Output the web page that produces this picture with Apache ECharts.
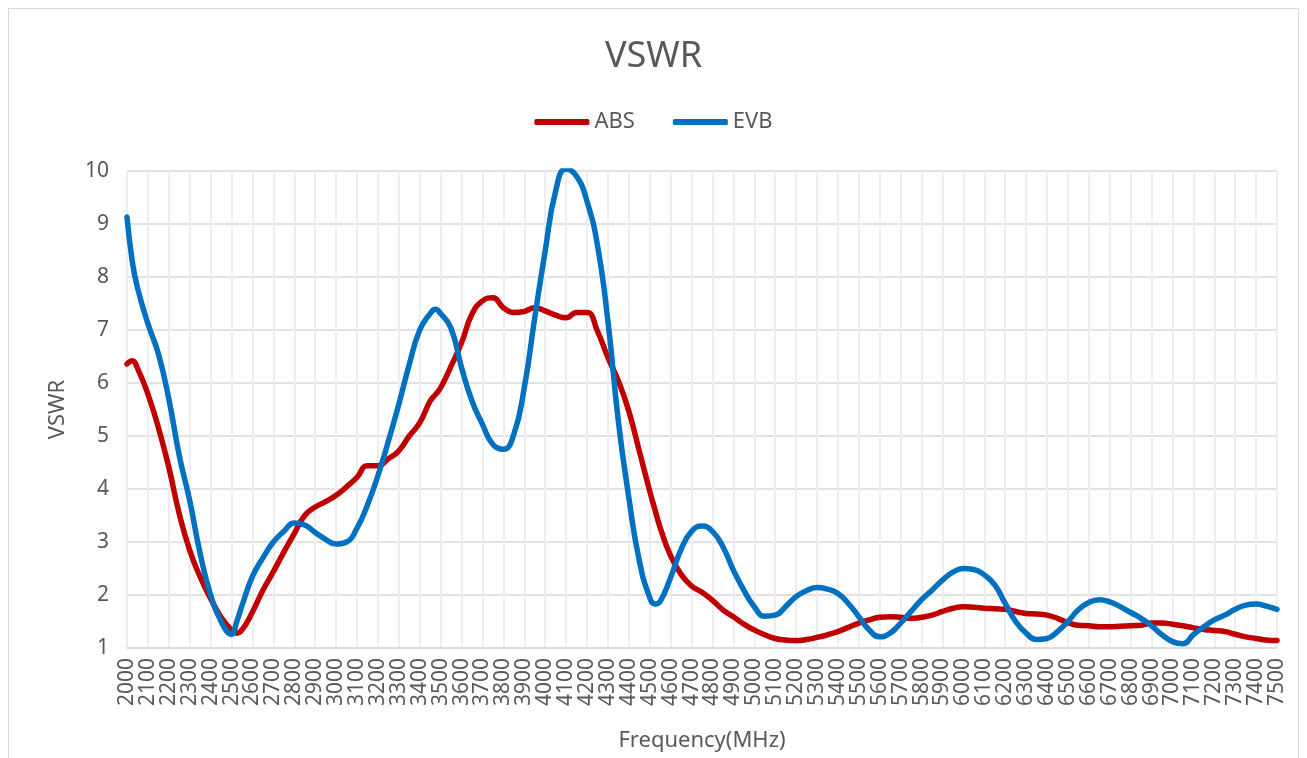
<!DOCTYPE html>
<html>
<head>
<meta charset="utf-8">
<title>VSWR</title>
<script src="https://cdn.jsdelivr.net/npm/echarts@6/dist/echarts.min.js"></script>
<style>
  html, body { margin: 0; padding: 0; background: #fff; }
  #frame { position: absolute; left: 8px; top: 8px; width: 1289px; height: 760px; border: 1px solid #d9d9d9; }
  #chart { position: absolute; left: 0; top: 0; width: 1307px; height: 758px; }
</style>
</head>
<body>
<div id="frame"></div>
<div id="chart"></div>
<script>
// frequency points (MHz), mostly 50 MHz apart, extra points at the dips/peaks
const freq = [
  2000, 2025, 2050, 2100, 2150, 2200, 2250, 2300, 2350, 2400, 2450,
  2500, 2525, 2550, 2600, 2650, 2700, 2750, 2800, 2850, 2900, 2950,
  3000, 3050, 3100, 3150, 3200, 3250, 3300, 3350, 3400, 3450, 3475,
  3500, 3550, 3600, 3650, 3700, 3750, 3800, 3850, 3900, 3950,
  4000, 4050, 4100, 4150, 4200, 4250, 4300, 4350, 4400, 4450,
  4500, 4525, 4550, 4600, 4650, 4700, 4750, 4800, 4850, 4900, 4950,
  5000, 5050, 5100, 5150, 5200, 5250, 5300, 5350, 5400, 5450,
  5500, 5550, 5600, 5650, 5700, 5750, 5800, 5850, 5900, 5950,
  6000, 6050, 6100, 6150, 6200, 6250, 6300, 6350, 6400, 6450,
  6500, 6550, 6600, 6650, 6700, 6750, 6800, 6850, 6900, 6950,
  7000, 7050, 7100, 7150, 7200, 7250, 7300, 7350, 7400, 7450,
  7500
];

// ABS board
const abs = [
  6.36, 6.42, 6.28, 5.79, 5.16, 4.41, 3.53, 2.84, 2.34, 1.93, 1.58,
  1.34, 1.28, 1.34, 1.68, 2.09, 2.44, 2.81, 3.16, 3.50, 3.66, 3.76,
  3.88, 4.04, 4.22, 4.44, 4.44, 4.57, 4.72, 5.00, 5.25, 5.66, 5.78,
  5.91, 6.32, 6.76, 7.30, 7.55, 7.61, 7.42, 7.33, 7.35, 7.42,
  7.36, 7.28, 7.23, 7.33, 7.33, 6.98, 6.48, 6.04, 5.47, 4.72,
  3.96, 3.61, 3.27, 2.74, 2.39, 2.17, 2.05, 1.90, 1.72, 1.59, 1.45,
  1.34, 1.25, 1.18, 1.15, 1.14, 1.16, 1.20, 1.25, 1.31, 1.39,
  1.47, 1.53, 1.58, 1.59, 1.58, 1.56, 1.58, 1.62, 1.69, 1.75,
  1.78, 1.77, 1.75, 1.74, 1.73, 1.69, 1.65, 1.64, 1.62, 1.56,
  1.48, 1.43, 1.42, 1.40, 1.40, 1.41, 1.42, 1.43, 1.47, 1.47,
  1.45, 1.42, 1.38, 1.35, 1.33, 1.31, 1.26, 1.21, 1.18, 1.15,
  1.14
];

// EVB board
const evb = [
  9.13, 8.30, 7.80, 7.12, 6.55, 5.70, 4.63, 3.78, 2.78, 2.00, 1.50,
  1.26, 1.50, 1.80, 2.35, 2.70, 3.00, 3.20, 3.36, 3.32, 3.18, 3.05,
  2.96, 3.00, 3.26, 3.70, 4.25, 4.90, 5.60, 6.35, 7.00, 7.31, 7.39,
  7.31, 7.03, 6.29, 5.66, 5.22, 4.84, 4.75, 5.03, 5.91, 7.23,
  8.49, 9.62, 10.04, 9.90, 9.43, 8.60, 7.17, 5.28, 3.84, 2.65,
  1.95, 1.83, 1.88, 2.33, 2.86, 3.20, 3.30, 3.20, 2.91, 2.47, 2.09,
  1.78, 1.60, 1.62, 1.78, 1.97, 2.08, 2.14, 2.11, 2.03, 1.84,
  1.59, 1.34, 1.21, 1.28, 1.47, 1.69, 1.91, 2.09, 2.28, 2.43,
  2.50, 2.48, 2.38, 2.19, 1.84, 1.50, 1.28, 1.16, 1.18, 1.31,
  1.50, 1.72, 1.86, 1.91, 1.87, 1.78, 1.67, 1.56, 1.42, 1.25,
  1.12, 1.08, 1.25, 1.40, 1.53, 1.62, 1.73, 1.81, 1.83, 1.79,
  1.73
];

const textColor = '#595959';
const font = 'Noto Sans, sans-serif';

let myChart = echarts.init(document.getElementById('chart'));

let option = {
  backgroundColor: 'transparent',
  textStyle: { fontFamily: font },
  title: {
    text: 'VSWR',
    left: 'center',
    top: 34,
    textStyle: { color: textColor, fontSize: 36, fontWeight: 'normal', fontFamily: font }
  },
  legend: {
    top: 106,
    left: 'center',
    itemWidth: 55,
    itemHeight: 6,
    itemGap: 38,
    icon: 'roundRect',
    textStyle: { color: textColor, fontSize: 22, fontFamily: font },
    data: ['ABS', 'EVB']
  },
  grid: { left: 127, right: 30, top: 171, bottom: 110, containLabel: false },
  xAxis: {
    type: 'value',
    min: 2000,
    max: 7500,
    interval: 100,
    name: 'Frequency(MHz)',
    nameLocation: 'middle',
    nameGap: 82,
    nameTextStyle: { color: textColor, fontSize: 22, fontFamily: font },
    axisLine: { show: true, lineStyle: { color: '#d9d9d9', width: 1.5 } },
    axisTick: { show: false },
    axisLabel: {
      rotate: 90, color: textColor, fontSize: 21, margin: 10, fontFamily: font,
      formatter: v => String(v)
    },
    splitLine: { show: true, lineStyle: { color: '#eeeeee', width: 2 } }
  },
  yAxis: {
    type: 'value',
    min: 1,
    max: 10,
    interval: 1,
    name: 'VSWR',
    nameLocation: 'middle',
    nameGap: 58,
    nameTextStyle: { color: textColor, fontSize: 22, fontFamily: font },
    axisLine: { show: false },
    axisTick: { show: false },
    axisLabel: { color: textColor, fontSize: 21, margin: 18, fontFamily: font },
    splitLine: { show: true, lineStyle: { color: '#d9d9d9', width: 1.5 } }
  },
  series: [
    {
      name: 'ABS',
      type: 'line',
      data: freq.map((f, i) => [f, abs[i]]),
      smooth: 0.5,
      showSymbol: false,
      clip: false,
      color: '#C00000',
      lineStyle: { width: 5.5, color: '#C00000', cap: 'round', join: 'round' }
    },
    {
      name: 'EVB',
      type: 'line',
      data: freq.map((f, i) => [f, evb[i]]),
      smooth: 0.5,
      showSymbol: false,
      clip: false,
      color: '#0070C0',
      lineStyle: { width: 5.5, color: '#0070C0', cap: 'round', join: 'round' }
    }
  ]
};

myChart.setOption(option);
</script>
</body>
</html>
